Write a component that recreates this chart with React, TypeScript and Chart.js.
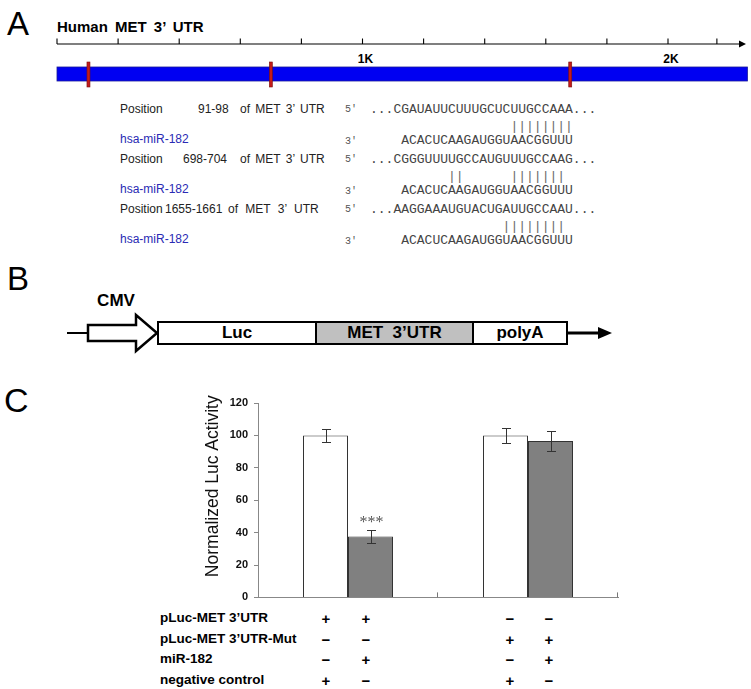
import React, { useEffect, useRef } from 'react';
import { Chart, registerables } from 'chart.js';
Chart.register(...registerables);

// ---------- Panel C data ----------
const groups = ['pLuc-MET 3’UTR', 'pLuc-MET 3’UTR-Mut'];
const ncValues = [100, 100];
const ncErrors = [4, 4.5];
const mirValues = [37.6, 96.6];
const mirErrors = [4, 6.2];
const mirMarks = ['***', ''];
const yMin = 0;
const yMax = 120;
const yStep = 20;
const yTitle = 'Normalized Luc Activity';

const tableRows = ['pLuc-MET 3’UTR', 'pLuc-MET 3’UTR-Mut', 'miR-182', 'negative control'];
const tableSigns = [
  ['+', '+', '−', '−'],
  ['−', '−', '+', '+'],
  ['−', '+', '−', '+'],
  ['+', '−', '+', '−'],
];

// ---------- Panel A data ----------
const utrLength = 2260;
const rulerTicks = [0, 200, 400, 600, 800, 1000, 1200, 1400, 1600, 1800, 2000, 2160];
const rulerLabels = [{ v: 1000, t: '1K' }, { v: 2000, t: '2K' }];
const siteMarkers = [103, 700, 1680];
const sitePositions = ['91-98', '698-704', '1655-1661'];
const siteTargets = [
  '...CGAUAUUCUUUGCUCUUGCCAAA...',
  '...CGGGUUUUGCCAUGUUUGCCAAG...',
  '...AAGGAAAUGUACUGAUUGCCAAU...',
];
const sitePairs = [
  '                  ||||||||',
  '          ||      |||||||',
  '                 ||||||||',
];
const mirName = 'hsa-miR-182';
const mirSeq = '    ACACUCAAGAUGGUAACGGUUU';

// ---------- Panel B data ----------
const constructParts = [
  { label: 'Luc', from: 158, to: 316, fill: '#ffffff' },
  { label: 'MET  3’UTR', from: 316, to: 473, fill: '#c0c0c0' },
  { label: 'polyA', from: 473, to: 567, fill: '#ffffff' },
];

const SANS = '"Liberation Sans", Arial, Helvetica, sans-serif';
const MONO = '"Liberation Mono", "Courier New", monospace';

function Txt(props: { x: number; y: number; size: number; children: any; bold?: boolean; color?: string; font?: string; align?: 'left' | 'center'; ws?: number; pre?: boolean }) {
  const { x, y, size, bold, color, font, align, ws, pre } = props;
  const h = Math.round(size * 1.2);
  const style: any = {
    position: 'absolute',
    top: y - h / 2,
    left: align === 'center' ? x - 200 : x,
    width: align === 'center' ? 400 : undefined,
    textAlign: align === 'center' ? 'center' : 'left',
    lineHeight: h + 'px',
    height: h,
    fontSize: size,
    fontFamily: font || SANS,
    fontWeight: bold ? 'bold' : 'normal',
    color: color || '#000',
    whiteSpace: pre ? 'pre' : 'nowrap',
    wordSpacing: ws ? ws + 'px' : undefined,
  };
  return <div style={style}>{props.children}</div>;
}

const rulerX = (v: number) => 57 + v * 0.3055;

export default function App() {
  const canvasRef = useRef<HTMLCanvasElement>(null);

  useEffect(() => {
    document.body.style.margin = '0';
    const canvas = canvasRef.current!;
    const overlay = {
      id: 'overlay',
      afterDatasetsDraw(chart: any) {
        const ctx = chart.ctx;
        const ys = chart.scales.y;
        const ca = chart.chartArea;
        ctx.save();
        // error bars
        const sets = [
          { vals: ncValues, errs: ncErrors, marks: ['', ''] },
          { vals: mirValues, errs: mirErrors, marks: mirMarks },
        ];
        sets.forEach((s, di) => {
          const meta = chart.getDatasetMeta(di);
          meta.data.forEach((bar: any, i: number) => {
            const x = Math.round(bar.x) + 0.5;
            const top = Math.round(ys.getPixelForValue(s.vals[i] + s.errs[i])) + 0.5;
            const bot = Math.round(ys.getPixelForValue(s.vals[i] - s.errs[i])) + 0.5;
            ctx.strokeStyle = '#333';
            ctx.lineWidth = 1;
            ctx.beginPath();
            ctx.moveTo(x, top); ctx.lineTo(x, bot);
            ctx.moveTo(x - 4.5, top); ctx.lineTo(x + 4.5, top);
            ctx.moveTo(x - 4.5, bot); ctx.lineTo(x + 4.5, bot);
            ctx.stroke();
            if (s.marks[i]) {
              ctx.fillStyle = '#555';
              ctx.font = '16px "Liberation Serif", "Times New Roman", serif';
              ctx.textAlign = 'center';
              ctx.textBaseline = 'middle';
              ctx.fillText(s.marks[i], x, top - 8);
            }
          });
        });
        // upward ticks at category boundaries
        const n = groups.length;
        const w = (ca.right - ca.left) / n;
        ctx.strokeStyle = '#777';
        ctx.lineWidth = 1;
        ctx.beginPath();
        for (let k = 1; k <= n; k++) {
          const x = Math.round(ca.left + k * w) - 0.5;
          ctx.moveTo(x, ca.bottom);
          ctx.lineTo(x, ca.bottom - 5);
        }
        ctx.stroke();
        // y-axis title
        ctx.fillStyle = '#111';
        ctx.font = '17.5px ' + SANS;
        ctx.textAlign = 'center';
        ctx.textBaseline = 'middle';
        ctx.translate(23, (ca.top + ca.bottom) / 2 - 14);
        ctx.rotate(-Math.PI / 2);
        ctx.fillText(yTitle, 0, 0);
        ctx.restore();
      },
    };

    const chart = new Chart(canvas, {
      type: 'bar',
      data: {
        labels: groups,
        datasets: [
          { label: 'negative control', data: ncValues, backgroundColor: '#ffffff', borderColor: '#333', borderWidth: 1, barPercentage: 1, categoryPercentage: 0.5 },
          { label: 'miR-182', data: mirValues, backgroundColor: '#808080', borderColor: '#333', borderWidth: 1, barPercentage: 1, categoryPercentage: 0.5 },
        ],
      },
      options: {
        animation: false,
        responsive: false,
        maintainAspectRatio: false,
        layout: { padding: { top: 18, right: 12, left: 0, bottom: 0 } },
        plugins: { legend: { display: false }, tooltip: { enabled: false } },
        scales: {
          x: {
            grid: { display: false },
            ticks: { display: false },
            border: { display: true, color: '#888', width: 1 },
            afterFit: (s: any) => { s.height = 10; },
          },
          y: {
            min: yMin,
            max: yMax,
            ticks: { stepSize: yStep, color: '#111', padding: 6, font: { family: SANS, size: 11, weight: 'bold' } },
            grid: { drawOnChartArea: false, drawTicks: true, tickLength: 4, color: '#888' },
            border: { display: true, color: '#888', width: 1 },
            title: { display: false },
            afterFit: (s: any) => { s.width = 68; },
          },
        },
      },
      plugins: [overlay],
    } as any);
    return () => chart.destroy();
  }, []);

  const bx = (v: number) => rulerX(v);

  return (
    <div style={{ position: 'relative', width: 751, height: 689, background: '#fff', overflow: 'hidden', fontFamily: SANS }}>
      {/* Panel letters */}
      <Txt x={7} y={24} size={33}>A</Txt>
      <Txt x={7} y={279} size={33}>B</Txt>
      <Txt x={4} y={400} size={34}>C</Txt>

      {/* Panel A + B graphics */}
      <svg width={751} height={380} style={{ position: 'absolute', left: 0, top: 0 }}>
        {/* ruler */}
        <line x1={57} y1={44} x2={741} y2={44} stroke="#000" strokeWidth={1.2} />
        <polygon points="746,44 739,40.5 739,47.5" fill="#000" />
        {rulerTicks.map((v, i) => (
          <line key={i} x1={bx(v)} y1={38.5} x2={bx(v)} y2={44} stroke="#000" strokeWidth={1.1} />
        ))}
        {/* UTR bar */}
        <rect x={57} y={67} width={bx(utrLength) - 57} height={14} fill="#0000f2" stroke="#1a1a9a" strokeWidth={0.8} />
        {siteMarkers.map((v, i) => (
          <rect key={i} x={bx(v) - 1.5} y={62} width={3} height={25} fill="#c41a1a" stroke="#7a1010" strokeWidth={0.6} />
        ))}
        {/* Panel B construct */}
        <line x1={67} y1={333} x2={88} y2={333} stroke="#000" strokeWidth={2} />
        <polygon points="88,325 136,325 136,315 157,333 136,351 136,341 88,341" fill="#fff" stroke="#000" strokeWidth={2.5} strokeLinejoin="miter" />
        {constructParts.map((p, i) => (
          <rect key={i} x={p.from} y={322} width={p.to - p.from} height={22} fill={p.fill} stroke="#000" strokeWidth={2} />
        ))}
        <line x1={567} y1={333} x2={600} y2={333} stroke="#000" strokeWidth={3} />
        <polygon points="612,333 598,327 598,339" fill="#000" />
      </svg>

      {/* Panel A texts */}
      <Txt x={57} y={27} size={15} bold ws={3}>Human MET 3’ UTR</Txt>
      {rulerLabels.map((l, i) => (
        <Txt key={i} x={bx(l.v) + 3} y={59} size={12} bold align="center">{l.t}</Txt>
      ))}
      {sitePositions.map((p, i) => {
        const y0 = 109 + i * 50;
        return (
          <React.Fragment key={i}>
            <Txt x={120} y={y0} size={12} color="#222">Position</Txt>
            <Txt x={i === 0 ? 198 : i === 1 ? 183 : 165} y={y0} size={12} color="#222">{p}</Txt>
            <Txt x={i === 2 ? 228 : 240} y={y0} size={12} color="#222" ws={i === 2 ? 4 : 2}>of MET 3’ UTR</Txt>
            <Txt x={345} y={y0 + 1} size={10} color="#555" font={MONO}>5'</Txt>
            <Txt x={370} y={y0 + 1} size={13} color="#444" font={MONO} pre>{siteTargets[i]}</Txt>
            <Txt x={370} y={y0 + 18} size={13} color="#666" font={MONO} pre>{sitePairs[i]}</Txt>
            <Txt x={120} y={y0 + 30} size={12} color="#2a2ab4">{mirName}</Txt>
            <Txt x={345} y={y0 + 33} size={10} color="#555" font={MONO}>3'</Txt>
            <Txt x={370} y={y0 + 32} size={13} color="#444" font={MONO} pre>{mirSeq}</Txt>
          </React.Fragment>
        );
      })}

      {/* Panel B texts */}
      <Txt x={116} y={301} size={17} bold align="center">CMV</Txt>
      {constructParts.map((p, i) => (
        <Txt key={i} x={(p.from + p.to) / 2} y={333} size={17} bold align="center" pre>{p.label}</Txt>
      ))}

      {/* Panel C chart */}
      <canvas ref={canvasRef} width={440} height={225} style={{ position: 'absolute', left: 190, top: 385, width: 440, height: 225 }} />

      {/* Panel C table */}
      {tableRows.map((r, ri) => {
        const y = 618 + ri * 20.7;
        const cols = [326, 366, 510, 549];
        return (
          <React.Fragment key={ri}>
            <Txt x={160} y={y} size={13.5} bold>{r}</Txt>
            {tableSigns[ri].map((s, ci) => (
              <Txt key={ci} x={cols[ci]} y={y + 1} size={15} bold align="center">{s}</Txt>
            ))}
          </React.Fragment>
        );
      })}
    </div>
  );
}
